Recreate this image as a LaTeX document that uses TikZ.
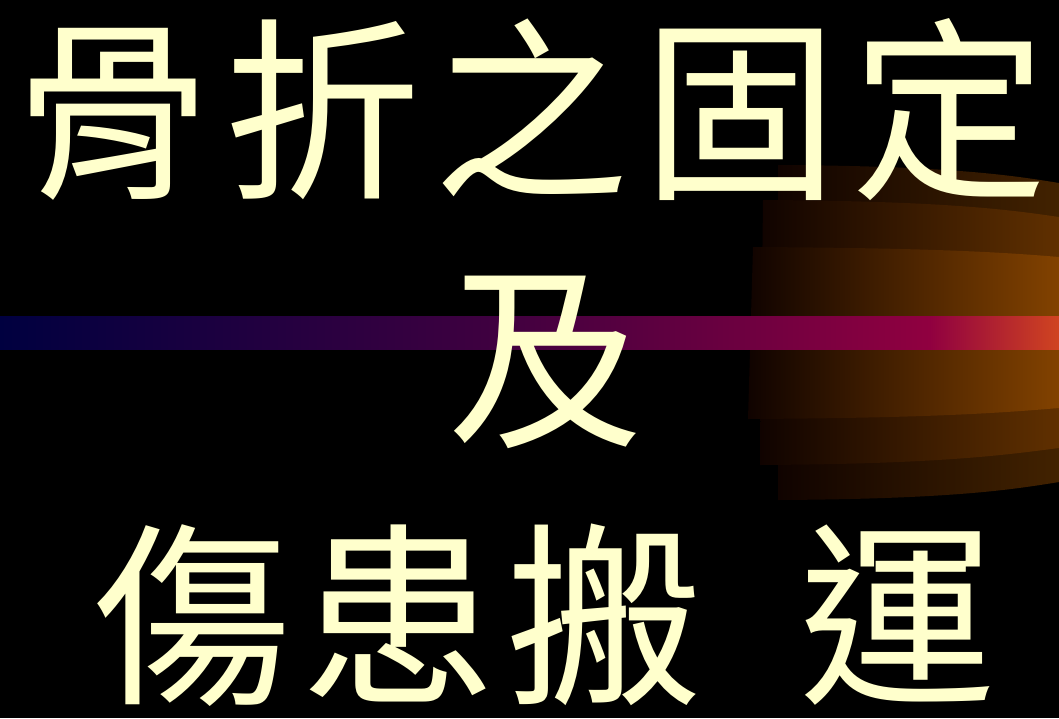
\documentclass[tikz,border=0pt]{standalone}
\usepackage{fontspec}
\newfontfamily\cjk{Noto Sans CJK TC}
\definecolor{titletext}{RGB}{255,255,204}
\definecolor{stripeA}{RGB}{0,0,64}
\definecolor{stripeB}{RGB}{64,0,64}
\definecolor{stripeC}{RGB}{144,0,64}
\definecolor{stripeD}{RGB}{208,68,32}
\definecolor{bandleft}{RGB}{16,3,0}
\definecolor{bandouter}{RGB}{66,34,0}
\definecolor{bandmid}{RGB}{96,48,0}
\definecolor{bandinner}{RGB}{130,66,0}
\pgfdeclarehorizontalshading{stripe}{100bp}{color(0bp)=(stripeA); color(25bp)=(stripeA); color(48.6bp)=(stripeB); color(68.9bp)=(stripeC); color(75bp)=(stripeD); color(100bp)=(stripeD)}
\newcommand{\cgap}{\hspace{13pt}}

\begin{document}
\begin{tikzpicture}[x=1pt,y=-1pt]
  \tikzstyle{band}=[left color=bandleft]
  \tikzstyle{title}=[text=titletext, inner sep=0pt, font=\cjk\fontsize{196pt}{196pt}\selectfont]
  \fill[black] (0,0) rectangle (1059,718);
  % orange bands on the right
  \shade[band, right color=bandouter] (778,165) .. controls (950,166) and (1010,175) .. (1059,183)
    -- (1059,482) .. controls (1010,490) and (950,499) .. (778,500) -- cycle;
  \shade[band, right color=bandmid] (763,200) .. controls (940,201) and (1005,209) .. (1059,217)
    -- (1059,448) .. controls (1005,455) and (940,464) .. (760,465) -- cycle;
  \shade[band, right color=bandinner] (753,247) .. controls (930,248) and (1000,252) .. (1059,257)
    -- (1059,408) .. controls (1000,413) and (930,418) .. (748,419) -- cycle;
  % stripe
  \shade[shading=stripe] (0,316) rectangle (1059,349);
  \node[title] (line1) at (532,110) {骨\cgap 折\cgap 之\cgap 固\cgap 定};
  \node[title] (line2) at (545,362) {及};
  \node[title] (line3) at (545,615) {傷\hspace{10pt}患\hspace{10pt}搬\hspace{97pt}運};
\end{tikzpicture}
\end{document}
